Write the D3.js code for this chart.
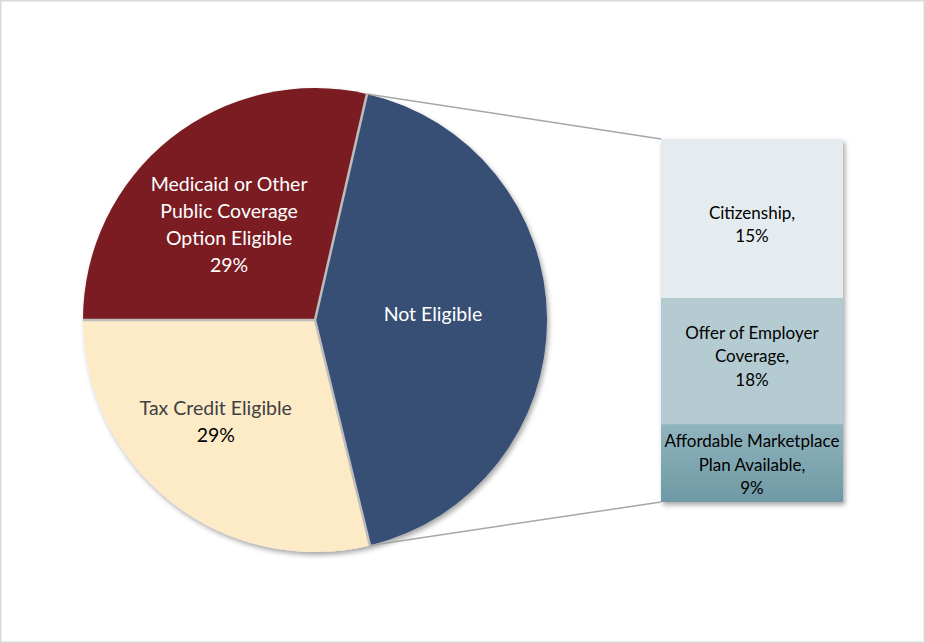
<!DOCTYPE html>
<html>
<head>
<meta charset="utf-8">
<script src="https://cdn.jsdelivr.net/npm/d3@7"></script>
<style>
  body { margin: 0; background: #fff; }
  svg { display: block; font-family: Lato, "Open Sans", sans-serif; }
</style>
</head>
<body>
<script>
// pie slices, in drawing order (clockwise from the top cut), sizes as drawn
const pieNames = ["Not Eligible", "Tax Credit Eligible", "Medicaid or Other Public Coverage Option Eligible"]
const pieValues = [42.6, 28.8, 28.6]
const pieLabels = [["Not Eligible"], ["Tax Credit Eligible", "29%"], ["Medicaid or Other", "Public Coverage", "Option Eligible", "29%"]]

// breakdown of "Not Eligible" (top to bottom), sizes as drawn
const barNames = ["Citizenship", "Offer of Employer Coverage", "Affordable Marketplace Plan Available"]
const barValues = [18.4, 14.6, 9.0]
const barLabels = [["Citizenship,", "15%"], ["Offer of Employer", "Coverage,", "18%"], ["Affordable Marketplace", "Plan Available,", "9%"]]

const width = 925, height = 643
const svg = d3.select("body").append("svg").attr("width", width).attr("height", height)

const defs = svg.append("defs")
const shadow = defs.append("filter").attr("id", "shadow")
  .attr("x", "-10%").attr("y", "-10%").attr("width", "130%").attr("height", "130%")
shadow.append("feDropShadow").attr("dx", 2).attr("dy", 3).attr("stdDeviation", 2.5)
  .attr("flood-color", "#000").attr("flood-opacity", 0.35)
const grad = defs.append("linearGradient").attr("id", "afford").attr("x1", 0).attr("y1", 0).attr("x2", 0).attr("y2", 1)
grad.append("stop").attr("offset", "0%").attr("stop-color", "#90b4be")
grad.append("stop").attr("offset", "100%").attr("stop-color", "#6e99a4")

// chart frame
svg.append("rect").attr("x", 0.75).attr("y", 0.75).attr("width", width - 1.5).attr("height", height - 1.5)
  .attr("fill", "#fff").attr("stroke", "#d9d9d9").attr("stroke-width", 1.5)

const cx = 315, cy = 320, r = 232
const startDeg = 12.95
const pieColors = ["#374f74", "#fdebc8", "#7a1f20"]
const pieText = ["#ffffff", "#404040", "#ffffff"]

const pie = d3.pie().sort(null).value(d => d)
  .startAngle(startDeg * Math.PI / 180).endAngle(startDeg * Math.PI / 180 + 2 * Math.PI)
const arcs = pie(pieValues)
const arc = d3.arc().innerRadius(0).outerRadius(r)
const labelArc = d3.arc().innerRadius(r * 0.56).outerRadius(r * 0.56)

const pieG = svg.append("g").attr("transform", `translate(${cx},${cy})`)
const slices = pieG.append("g").attr("filter", "url(#shadow)")
slices.selectAll("path").data(arcs).enter().append("path")
  .attr("d", arc)
  .attr("fill", (d, i) => pieColors[i])
// separators between slices
pieG.selectAll("line.sep").data(arcs).enter().append("line")
  .attr("class", "sep")
  .attr("x1", 0).attr("y1", 0)
  .attr("x2", d => r * Math.sin(d.startAngle)).attr("y2", d => -r * Math.cos(d.startAngle))
  .attr("stroke", "#bdbdbd").attr("stroke-width", 2.5).attr("stroke-linecap", "butt")

const pieLabelOffset = [[-12, -5], [-19, 0], [-5, 7]]
arcs.forEach(function(d, i) {
  const c = labelArc.centroid(d)
  const lines = pieLabels[i]
  const lh = 27
  const t = pieG.append("text")
    .attr("text-anchor", "middle")
    .attr("font-size", 19.5)
    .attr("fill", pieText[i])
  lines.forEach(function(s, j) {
    t.append("tspan")
      .attr("x", c[0] + pieLabelOffset[i][0])
      .attr("y", c[1] + pieLabelOffset[i][1] + (j - (lines.length - 1) / 2) * lh + 6.5)
      .attr("fill", i === 1 && j === 1 ? "#000" : null)
      .text(s)
  })
})

// bar of pie
const barX = 661, barW = 182
const y = d3.scaleLinear().domain([0, d3.sum(barValues)]).range([139, 502])
const stacked = []
let acc = 0
barValues.forEach(function(v, i) { stacked.push({ y0: acc, y1: acc + v, i: i }); acc += v })
const barColors = ["#e5ecef", "#b5cbd2", "url(#afford)"]
const barLabelOffset = [6.5, -4.5, 2]

const barG = svg.append("g")
barG.append("g").attr("filter", "url(#shadow)")
  .selectAll("rect").data(stacked).enter().append("rect")
  .attr("x", barX).attr("width", barW)
  .attr("y", d => y(d.y0)).attr("height", d => y(d.y1) - y(d.y0))
  .attr("fill", d => barColors[d.i])

stacked.forEach(function(d) {
  const lines = barLabels[d.i]
  const lh = 23.5
  const mid = (y(d.y0) + y(d.y1)) / 2 + barLabelOffset[d.i]
  const t = barG.append("text").attr("text-anchor", "middle").attr("font-size", 17).attr("fill", "#000")
  lines.forEach(function(s, j) {
    t.append("tspan").attr("x", barX + barW / 2)
      .attr("y", mid + (j - (lines.length - 1) / 2) * lh + 5.5)
      .text(s)
  })
})

// connector lines from the pie cut to the bar corners
const a0 = arcs[0].startAngle, a1 = arcs[0].endAngle
svg.append("line")
  .attr("x1", cx + r * Math.sin(a0)).attr("y1", cy - r * Math.cos(a0))
  .attr("x2", barX).attr("y2", y(0))
  .attr("stroke", "#a6a6a6").attr("stroke-width", 1.5)
svg.append("line")
  .attr("x1", cx + r * Math.sin(a1)).attr("y1", cy - r * Math.cos(a1))
  .attr("x2", barX).attr("y2", y(d3.sum(barValues)))
  .attr("stroke", "#a6a6a6").attr("stroke-width", 1.5)
</script>
</body>
</html>
